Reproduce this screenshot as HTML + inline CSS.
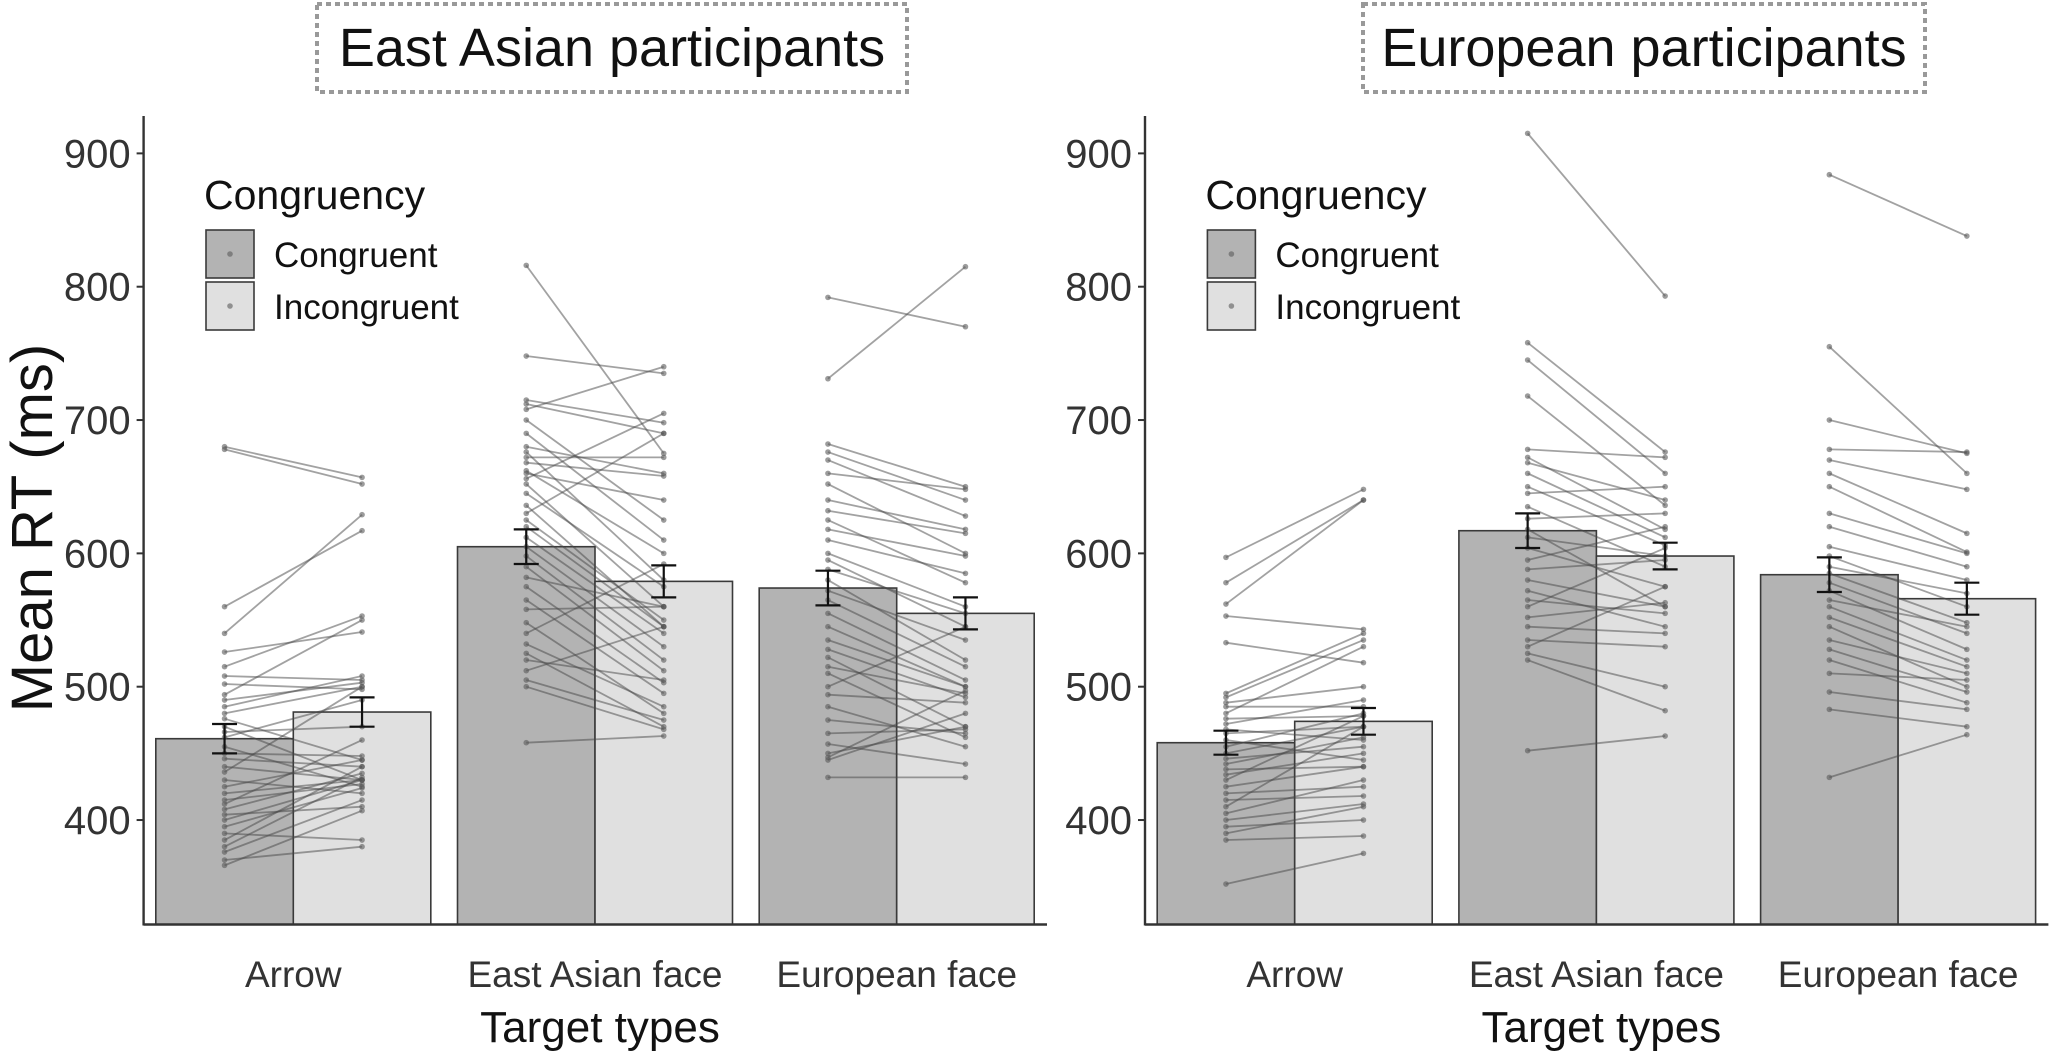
<!DOCTYPE html>
<html><head><meta charset="utf-8"><style>
html,body{margin:0;padding:0;background:#fff;}
svg{display:block;font-family:"Liberation Sans",Arial,sans-serif;}
</style></head>
<body>
<svg id="chart" width="2056" height="1064" viewBox="0 0 2056 1064" xmlns="http://www.w3.org/2000/svg"></svg>
<script>
const categories = ["Arrow", "East Asian face", "European face"];
const panelTitles = ["East Asian participants", "European participants"];
const yTicks = [400, 500, 600, 700, 800, 900];
// bar means [congruent, incongruent] per category
const eaMeans = [[461, 481], [605, 579], [574, 555]];
const euMeans = [[458, 474], [617, 598], [584, 566]];
// standard errors
const eaErr = [[11, 11], [13, 12], [13, 12]];
const euErr = [[9, 10], [13, 10], [13, 12]];
// participant pairs [congruent, incongruent]
const eaArrow = [[680,657],[678,652],[560,617],[540,629],[526,541],[515,553],[508,505],[502,498],[494,550],[490,503],[485,508],[480,500],[476,445],[470,430],[466,470],[462,490],[455,425],[450,448],[446,440],[440,430],[436,500],[430,420],[425,445],[420,430],[415,427],[412,460],[408,435],[404,410],[400,430],[395,424],[390,385],[385,440],[380,432],[376,415],[370,380],[366,407]];
const eaEA = [[816,675],[748,735],[715,698],[712,690],[708,740],[680,660],[672,672],[660,640],[656,705],[700,625],[690,610],[676,580],[668,658],[662,600],[652,560],[645,575],[636,545],[630,690],[625,550],[620,545],[612,540],[605,530],[598,520],[590,512],[582,560],[575,503],[565,495],[558,560],[548,480],[540,592],[532,485],[525,470],[520,505],[512,545],[505,475],[500,468],[458,463]];
const eaEU = [[792,770],[731,815],[682,650],[676,640],[670,628],[660,648],[652,600],[640,618],[632,615],[625,578],[618,598],[610,585],[600,560],[595,545],[588,555],[580,520],[572,535],[565,515],[555,505],[545,500],[535,500],[528,492],[522,470],[515,495],[510,462],[500,545],[494,488],[485,455],[475,465],[465,468],[457,442],[450,470],[447,497],[445,480],[432,432]];
const euArrow = [[597,648],[578,640],[562,640],[553,543],[533,518],[495,540],[492,535],[488,500],[485,485],[480,530],[476,478],[472,490],[468,460],[465,470],[460,445],[455,480],[450,470],[446,455],[442,462],[438,440],[434,450],[430,478],[425,440],[420,425],[415,418],[410,470],[405,430],[400,412],[395,400],[390,410],[385,388],[352,375]];
const euEA = [[915,793],[758,676],[745,660],[718,636],[678,672],[672,618],[668,640],[660,612],[650,606],[645,650],[635,590],[626,630],[618,560],[612,598],[604,575],[595,620],[588,595],[580,560],[572,545],[565,555],[560,604],[552,563],[545,540],[535,530],[530,575],[525,500],[520,482],[452,463]];
const euEU = [[884,838],[755,660],[700,675],[678,676],[670,648],[660,615],[650,601],[630,600],[620,590],[605,580],[598,560],[590,570],[585,548],[578,540],[572,528],[565,545],[560,520],[552,515],[545,500],[535,510],[528,496],[520,488],[510,505],[496,483],[483,470],[432,464]];

const NS = "http://www.w3.org/2000/svg";
const svg = document.getElementById("chart");
function mk(tag, attrs, parent, text) {
  const e = document.createElementNS(NS, tag);
  for (const k in attrs) e.setAttribute(k, attrs[k]);
  if (text !== undefined) e.textContent = text;
  (parent || svg).appendChild(e);
  return e;
}
const Y0 = 924.5;
function yScale(v) { return 686.7 - (v - 500) * 1.3333; }
const barW = 137.5;
function xBar(dx, ci, k) { return dx + 155.8 + ci * 301.7 + k * barW; }
const fills = ["#b3b3b3", "#e0e0e0"];

function panel(dx, pi, means, errs, pairs) {
  const g = mk("g", {});
  
  
  const cx = pi === 0 ? 612 : 1644;
  const tw = pi === 0 ? 590 : 562;
  const box = mk("rect", {x: cx - tw/2, y: 4, width: tw, height: 88, fill: "none", stroke: "#999", "stroke-width": 4, "stroke-dasharray": "5 4"}, g);
  
  
  const t = mk("text", {x: cx, y: 66, "font-size": 54, "text-anchor": "middle", fill: "#111"}, g, panelTitles[pi]);
  
  
  for (let ci = 0; ci < 3; ci++) {
    for (let k = 0; k < 2; k++) {
      const b = mk("rect", {x: xBar(dx, ci, k), y: yScale(means[ci][k]), width: barW, height: Y0 - yScale(means[ci][k]), fill: fills[k], stroke: "#3a3a3a", "stroke-width": 1.6}, g);
      
      
    }
  }
  for (let ci = 0; ci < 3; ci++) {
    const x1 = xBar(dx, ci, 0) + barW / 2, x2 = xBar(dx, ci, 1) + barW / 2;
    pairs[ci].forEach(p => {
      const l = mk("line", {x1: x1, y1: yScale(p[0]), x2: x2, y2: yScale(p[1]), stroke: "rgba(70,70,70,0.5)", "stroke-width": 1.8}, g);
      
      
      [0, 1].forEach(k => {
        const c = mk("circle", {cx: k ? x2 : x1, cy: yScale(p[k]), r: 2.8, fill: "rgba(90,90,90,0.6)"}, g);
        
        
      });
    });
  }
  for (let ci = 0; ci < 3; ci++) {
    for (let k = 0; k < 2; k++) {
      const x = xBar(dx, ci, k) + barW / 2;
      const hi = yScale(means[ci][k] + errs[ci][k]), lo = yScale(means[ci][k] - errs[ci][k]);
      const e = mk("path", {d: `M${x-12.5},${hi}H${x+12.5}M${x},${hi}V${lo}M${x-12.5},${lo}H${x+12.5}`, stroke: "#111", "stroke-width": 2.2, fill: "none"}, g);
      
      
    }
  }
  const ax = dx + 143.6;
  const ya = mk("line", {x1: ax, y1: 116, x2: ax, y2: Y0 + 1, stroke: "#333", "stroke-width": 2.4}, g);
  
  
  const xa = mk("line", {x1: ax, y1: Y0, x2: dx + 1047, y2: Y0, stroke: "#333", "stroke-width": 2.4}, g);
  
  
  yTicks.forEach(v => {
    const tk = mk("line", {x1: ax - 7, y1: yScale(v), x2: ax, y2: yScale(v), stroke: "#333", "stroke-width": 2}, g);
    
    
    const tl = mk("text", {x: ax - 13, y: yScale(v) + 14, "font-size": 40, "text-anchor": "end", fill: "#333"}, g, String(v));
    
    
  });
  categories.forEach((c, ci) => {
    const xl = mk("text", {x: xBar(dx, ci, 1), y: 987, "font-size": 37, "text-anchor": "middle", fill: "#333"}, g, c);
    
    
  });
  const xt = mk("text", {x: dx + 600, y: 1042, "font-size": 44, "text-anchor": "middle", fill: "#111"}, g, "Target types");
  
  
  if (pi === 0) {
    const yt = mk("text", {x: 0, y: 0, "font-size": 58, "text-anchor": "middle", fill: "#111", transform: "translate(52,528) rotate(-90)"}, g, "Mean RT (ms)");
    
    
  }
  const lg = mk("g", {}, g);
  
  
  const lt = mk("text", {x: dx + 204, y: 209, "font-size": 41, fill: "#111"}, lg, "Congruency");
  
  
  ["Congruent", "Incongruent"].forEach((name, k) => {
    const by = 230 + k * 52;
    const r = mk("rect", {x: dx + 206, y: by, width: 48, height: 48, fill: fills[k], stroke: "#3a3a3a", "stroke-width": 1.6}, lg);
    
    
    mk("circle", {cx: dx + 230, cy: by + 24, r: 2.8, fill: "rgba(90,90,90,0.6)"}, lg);
    const tx = mk("text", {x: dx + 274, y: by + 37, "font-size": 35, fill: "#111"}, lg, name);
    
    
  });
}
panel(0, 0, eaMeans, eaErr, [eaArrow, eaEA, eaEU]);
panel(1001.4, 1, euMeans, euErr, [euArrow, euEA, euEU]);
</script>
</body></html>
